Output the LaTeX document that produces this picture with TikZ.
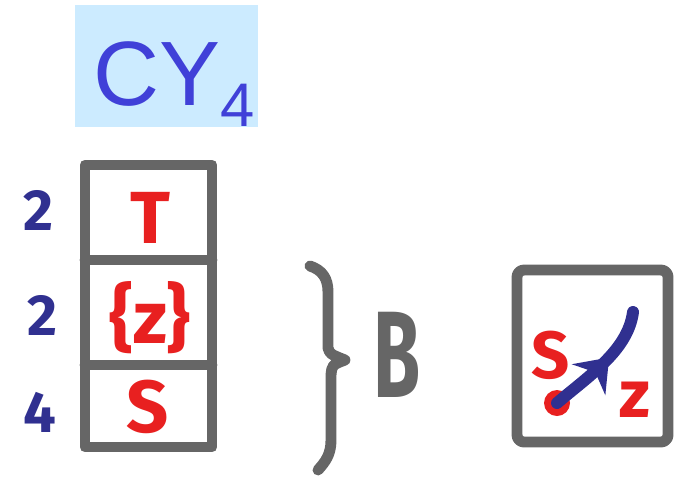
\documentclass[tikz,border=0pt]{standalone}
\usepackage{fontspec}
\setmainfont{Liberation Sans}
\newfontfamily\hand{Fira Sans}
\usetikzlibrary{decorations.markings,arrows.meta}
\definecolor{sketchgray}{HTML}{666666}
\definecolor{cyblue}{HTML}{4040D8}
\definecolor{cybg}{HTML}{CCEBFF}
\definecolor{navy}{HTML}{303090}
\definecolor{sred}{HTML}{E82020}
\begin{document}
\begin{tikzpicture}[x=0.01cm,y=-0.01cm,
  frame/.style={draw=sketchgray,line width=3.1pt,line join=round,line cap=round},
  num/.style={text=navy,inner sep=0,anchor=base,font=\hand\bfseries\fontsize{16.5}{16.5}\selectfont},
  lab/.style={text=sred,inner sep=0,anchor=base,font=\hand\bfseries\fontsize{21}{21}\selectfont},
  slab/.style={text=sred,inner sep=0,anchor=base,font=\hand\bfseries\fontsize{19}{19}\selectfont}]
\useasboundingbox (0,0) rectangle (677,478);
% title
\node[fill=cybg,minimum width=1.83cm,minimum height=1.22cm,inner sep=0] (titlebg) at (166.5,66) {};
\node[text=cyblue,inner sep=0,anchor=base west,font=\fontsize{26}{26}\selectfont] (title) at (93,105)
  {CY\raisebox{-0.21cm}{\fontsize{17.5}{17.5}\selectfont 4}};
% stack
\draw[frame] (85,165) rectangle (212,447);
\draw[frame] (85,260) -- (212,260);
\draw[frame] (85,365) -- (212,365);
\node[lab] (t) at (150,243) {T};
\node[lab] (z) at (150,343) {\{z\}};
\node[lab] (s) at (148,432) {S};
\node[num] (n1) at (38,230) {2};
\node[num] (n2) at (42,335) {2};
\node[num] (n3) at (40,432) {4};
% brace
\draw[frame] (310,266) .. controls (322,270) and (328,278) .. (328,292) -- (328,348)
  .. controls (330,354) .. (345,360) .. controls (332,365) .. (331,375) -- (331,440)
  .. controls (331,455) and (325,462) .. (318,470);
\node[text=sketchgray,inner sep=0,anchor=base,xscale=0.62,font=\hand\bfseries\fontsize{35}{35}\selectfont] (b) at (397,397) {B};
% right box
\draw[frame,rounded corners=2pt] (517,270) rectangle (668,442);
\node[slab] (rs) at (551,378) {S};
\node[slab] (rz) at (635,417) {z};
\node[circle,fill=sred,minimum size=0.26cm,inner sep=0] (dot) at (557,403) {};
\coordinate (tip) at (633,312);
\draw[navy,line width=3.4pt,line cap=round,postaction={decorate},
  decoration={markings,mark=at position 0.57 with {\arrow{Stealth[length=0.3cm,width=0.45cm]}}}]
  (dot.center) .. controls (590,375) and (628,350) .. (tip);
\end{tikzpicture}
\end{document}
